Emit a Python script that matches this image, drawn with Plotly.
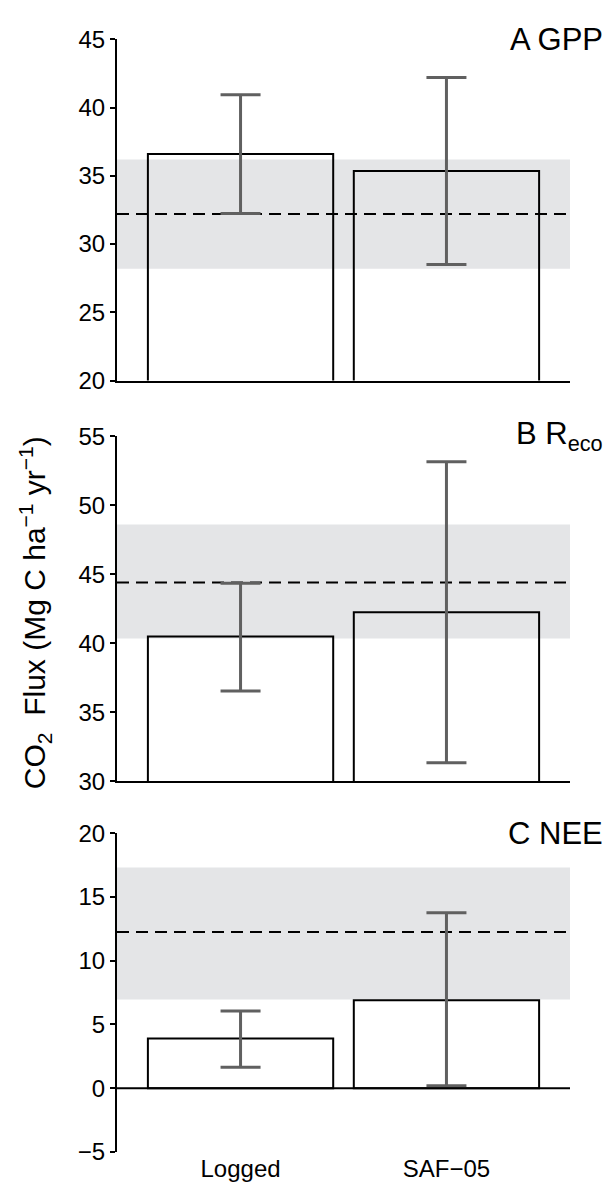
import plotly.graph_objects as go

W, H = 606, 1197

categories = ["Logged", "SAF−05"]
x_pos = [0, 1]

gpp_mean = [36.6, 35.35]
gpp_low = [32.25, 28.5]
gpp_high = [40.95, 42.2]
gpp_ref = 32.2
gpp_band = [28.2, 36.2]

reco_mean = [40.5, 42.25]
reco_low = [36.55, 31.35]
reco_high = [44.35, 53.15]
reco_ref = 44.4
reco_band = [40.35, 48.6]

nee_mean = [3.9, 6.9]
nee_low = [1.65, 0.2]
nee_high = [6.05, 13.75]
nee_ref = 12.25
nee_band = [6.95, 17.3]

panel_titles = ["A GPP", "B R<sub>eco</sub>", "C NEE"]
y_ranges = [[20, 45], [30, 55], [-5, 20]]
y_ticks = [[20, 25, 30, 35, 40, 45], [30, 35, 40, 45, 50, 55], [-5, 0, 5, 10, 15, 20]]

FONT = "Liberation Sans, Arial, Helvetica, sans-serif"
ERR_COLOR = "#606060"
BAND_COLOR = "#e4e5e7"

# pixel layout of panels (top, bottom)
panel_px = [(26, 375), (432, 785), (838, 1164.3)]
x_dom = [117 / W, 570 / W]

fig = go.Figure()
layout = dict(
    width=W, height=H,
    margin=dict(l=0, r=0, t=0, b=0),
    paper_bgcolor="white", plot_bgcolor="white",
    showlegend=False,
    font=dict(family=FONT, color="black", size=24),
)

shapes = []
annotations = []
data_sets = [
    (gpp_mean, gpp_low, gpp_high, gpp_ref, gpp_band),
    (reco_mean, reco_low, reco_high, reco_ref, reco_band),
    (nee_mean, nee_low, nee_high, nee_ref, nee_band),
]

for i, (mean, low, high, ref, band) in enumerate(data_sets):
    n = i + 1
    xa = "x" if n == 1 else f"x{n}"
    ya = "y" if n == 1 else f"y{n}"
    top, bot = panel_px[i]
    fig.add_trace(go.Bar(
        x=x_pos, y=mean, width=0.9,
        xaxis=xa, yaxis=ya,
        marker=dict(color="rgba(0,0,0,0)", line=dict(color="black", width=2)),
        error_y=dict(
            type="data", symmetric=False,
            array=[h - m for h, m in zip(high, mean)],
            arrayminus=[m - l for m, l in zip(mean, low)],
            color=ERR_COLOR, thickness=3, width=20,
        ),
        hoverinfo="skip",
    ))
    last = (n == 3)
    layout["xaxis" if n == 1 else f"xaxis{n}"] = dict(
        domain=x_dom, anchor=ya, range=[-0.6, 1.6],
        tickvals=x_pos, ticktext=categories,
        showticklabels=last, ticks="",
        showline=not last, linecolor="black", linewidth=2,
        showgrid=False, zeroline=False,
        tickfont=dict(size=24, family=FONT, color="black"),
    )
    layout["yaxis" if n == 1 else f"yaxis{n}"] = dict(
        domain=[1 - bot / H, 1 - top / H], anchor=xa,
        range=y_ranges[i], tickvals=y_ticks[i],
        showline=True, linecolor="black", linewidth=2,
        ticks="outside", ticklen=5, tickwidth=2, tickcolor="black",
        showgrid=False, zeroline=False,
        tickfont=dict(size=24, family=FONT, color="black"),
    )
    xd = f"{xa} domain"
    shapes.append(dict(type="rect", xref=xd, yref=ya, x0=0, x1=1,
                       y0=band[0], y1=band[1], fillcolor=BAND_COLOR,
                       line=dict(width=0), layer="below"))
    shapes.append(dict(type="line", xref=xd, yref=ya, x0=0, x1=1,
                       y0=ref, y1=ref, line=dict(color="black", width=2, dash="12px,7px"),
                       layer="below"))
    if last:
        shapes.append(dict(type="line", xref=xd, yref=ya, x0=0, x1=1,
                           y0=0, y1=0, line=dict(color="black", width=2), layer="above"))
    annotations.append(dict(
        text=panel_titles[i], xref="paper", yref="paper",
        x=605 / W, y=1 - top / H, xanchor="right", yanchor="middle",
        showarrow=False, font=dict(size=31, family=FONT, color="black"),
    ))

annotations.append(dict(
    text="CO<sub>2</sub>  Flux (Mg C ha<sup>−1</sup> yr<sup>−1</sup>)",
    xref="paper", yref="paper", x=35 / W, y=1 - 613 / H,
    xanchor="center", yanchor="middle", textangle=-90, showarrow=False,
    font=dict(size=30, family=FONT, color="black"),
))

layout["shapes"] = shapes
layout["annotations"] = annotations
fig.update_layout(**layout)
fig.write_html(
    "out.html",
    config={"displayModeBar": False},
    post_script="document.body.style.margin='0';document.body.style.overflow='hidden';",
)
